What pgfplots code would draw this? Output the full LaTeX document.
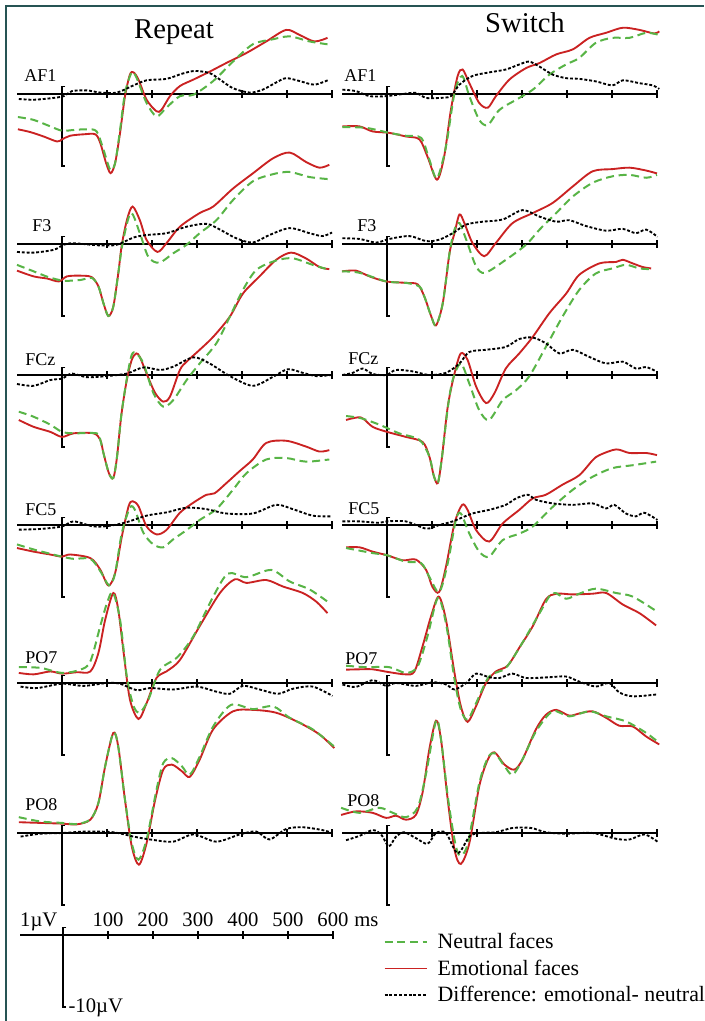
\documentclass[border=0pt]{standalone}
\usepackage{fontspec}
\setmainfont{Liberation Serif}
\usepackage{pgfplots}
\pgfplotsset{compat=1.18}
\definecolor{emo}{RGB}{202,34,34}
\definecolor{neu}{RGB}{88,180,70}
\definecolor{framec}{RGB}{38,84,84}
\pgfplotsset{
 panel/.style={anchor=origin, scale only axis, width=236.25pt, height=59.4pt,
   xmin=-100, xmax=600, ymin=-10, ymax=1, hide axis, clip=false},
 emoL/.style={emo, line width=1.4pt, smooth},
 neuL/.style={neu, line width=1.5pt, smooth, dash pattern=on 6pt off 3.5pt},
 difL/.style={black, line width=1.4pt, smooth, dash pattern=on 2.2pt off 1.4pt},
}
\newcommand{\frameaxes}{%
 \draw[line width=1pt] (axis cs:-100,0) -- (axis cs:600,0);
 \pgfplotsinvokeforeach{100,200,300,400,500,600}{\draw[line width=0.9pt] (axis cs:##1,0) ++(0pt,-2.8pt) -- ++(0pt,5.6pt);}
 \draw[line width=1pt] ([xshift=2.5pt]axis cs:0,1) -- (axis cs:0,1) -- (axis cs:0,-10) -- ([xshift=2.5pt]axis cs:0,-10);
}
\newcommand{\chan}{\fontsize{13.5}{16}\selectfont}
\begin{document}
\begin{tikzpicture}[x=0.75pt,y=0.75pt]
\useasboundingbox (0,0) rectangle (704,1021);
\coordinate (L1) at (62,927); \coordinate (L2) at (62,777); \coordinate (L3) at (62,646);
\coordinate (L4) at (62,496); \coordinate (L5) at (62,338); \coordinate (L6) at (62,188);
\coordinate (R1) at (387,927); \coordinate (R2) at (387,777); \coordinate (R3) at (387,646);
\coordinate (R4) at (387,496); \coordinate (R5) at (387,338); \coordinate (R6) at (387,188);
\coordinate (S0) at (63,86);
\draw[framec, line width=1.4pt] (6,0) -- (6,1015) -- (704,1015);
\node[anchor=base, font=\fontsize{21.5}{26}\selectfont] at (174,982) {Repeat};
\node[anchor=base, font=\fontsize{21.5}{26}\selectfont] at (525,988) {Switch};
% channel labels
\node[anchor=base west, inner sep=0pt, font=\chan] at (24,939) {AF1};
\node[anchor=base west, inner sep=0pt, font=\chan] at (32,789) {F3};
\node[anchor=base west, inner sep=0pt, font=\chan] at (25,655) {FCz};
\node[anchor=base west, inner sep=0pt, font=\chan] at (25,505) {FC5};
\node[anchor=base west, inner sep=0pt, font=\chan] at (25,357) {PO7};
\node[anchor=base west, inner sep=0pt, font=\chan] at (25,210) {PO8};
\node[anchor=base west, inner sep=0pt, font=\chan] at (344,939) {AF1};
\node[anchor=base west, inner sep=0pt, font=\chan] at (357,789) {F3};
\node[anchor=base west, inner sep=0pt, font=\chan] at (348,656) {FCz};
\node[anchor=base west, inner sep=0pt, font=\chan] at (348,506) {FC5};
\node[anchor=base west, inner sep=0pt, font=\chan] at (345,356) {PO7};
\node[anchor=base west, inner sep=0pt, font=\chan] at (347,214) {PO8};

% ===== Repeat AF1
\begin{axis}[panel, at={(L1)}]
\frameaxes
\addplot[emoL] coordinates {(-98,-4.9)(-70,-5.3)(-41,-5.9)(-11,-6.6)(0,-6.3)(18,-5.8)(48,-5.6)(74,-5.6)(85,-6.8)(98,-9.6)(108,-11.0)(118,-9.6)(129,-5.4)(140,-0.3)(151,2.7)(159,3.0)(170,2.0)(188,-0.8)(210,-2.4)(221,-2.2)(240,-0.3)(262,1.1)(292,2.0)(328,3.1)(365,4.3)(410,5.7)(454,7.3)(498,8.9)(528,8.2)(561,7.3)(590,7.8)};
\addplot[neuL] coordinates {(-98,-3.2)(-63,-3.6)(-26,-4.5)(0,-5.1)(26,-5.0)(55,-4.9)(77,-5.2)(92,-7.7)(107,-10.5)(118,-9.6)(129,-5.0)(140,0.1)(155,3.0)(166,2.2)(188,-1.25)(210,-3.1)(232,-1.9)(262,-0.3)(292,-0.1)(336,1.8)(380,4.5)(424,6.9)(469,7.6)(506,8.0)(550,7.3)(590,6.9)};
\addplot[difL] coordinates {(-96,-0.7)(-63,-0.8)(-26,-0.6)(4,-0.3)(22,0.4)(55,0.5)(85,0.2)(122,0.2)(159,1.2)(188,1.9)(232,2.1)(266,2.8)(295,3.2)(328,2.9)(351,2.0)(380,0.8)(417,0.2)(446,0.6)(476,1.6)(498,2.2)(528,1.8)(561,1.3)(594,2.0)};
\end{axis}
% ===== Repeat F3
\begin{axis}[panel, at={(L2)}]
\frameaxes
\addplot[emoL] coordinates {(-100,-3.7)(-63,-4.5)(-33,-4.8)(-7,-5.2)(11,-4.5)(41,-4.4)(66,-4.6)(81,-5.9)(92,-8.2)(103,-10.0)(114,-8.7)(125,-4.1)(133,-0.1)(145,3.5)(157,5.2)(173,3.3)(188,0.55)(212,-1.1)(232,0.1)(262,2.4)(306,4.3)(336,5.2)(380,7.7)(424,9.8)(469,11.9)(506,12.7)(542,11.4)(572,10.6)(594,11.0)};
\addplot[neuL] coordinates {(-100,-2.9)(-63,-3.8)(-30,-4.6)(4,-5.1)(41,-5.0)(66,-4.7)(81,-5.9)(92,-8.2)(103,-10.0)(114,-8.7)(125,-4.1)(135,0.2)(153,4.3)(173,1.5)(192,-1.8)(216,-2.6)(247,-1.3)(277,-0.1)(306,1.5)(343,3.3)(380,6.1)(424,8.7)(469,9.7)(506,10.0)(550,9.3)(594,9.0)};
\addplot[difL] coordinates {(-100,-1.1)(-63,-1.2)(-18,-0.8)(4,-0.1)(26,0.1)(85,-0.2)(122,-0.1)(159,0.9)(188,1.25)(232,1.5)(277,2.4)(321,2.8)(351,2.0)(387,0.8)(424,0.2)(461,1.25)(506,2.2)(550,1.5)(579,1.1)(600,1.6)};
\end{axis}
% ===== Repeat FCz
\begin{axis}[panel, at={(L3)}]
\frameaxes
\addplot[emoL] coordinates {(-96,-6.25)(-63,-7.2)(-26,-7.9)(0,-8.6)(26,-8.1)(70,-8.1)(85,-9.0)(92,-10.8)(104,-13.6)(114,-14.3)(122,-11.5)(132,-5.5)(144,-0.7)(155,2.1)(165,3.0)(173,2.5)(188,0.2)(207,-2.5)(225,-3.7)(240,-3.0)(262,0.7)(277,1.85)(306,3.5)(336,5.3)(373,8.1)(402,11.3)(439,13.7)(476,16.0)(509,17.0)(542,16.2)(572,15.0)(594,14.7)};
\addplot[neuL] coordinates {(-96,-5.1)(-63,-5.8)(-26,-6.9)(0,-7.9)(26,-8.1)(77,-8.1)(85,-9.0)(92,-10.8)(104,-13.6)(114,-14.3)(122,-11.5)(132,-5.5)(144,-0.5)(155,2.8)(165,3.0)(181,1.6)(203,-2.5)(225,-4.4)(247,-3.5)(277,-0.7)(306,1.6)(343,4.4)(373,8.1)(402,11.8)(432,14.6)(476,15.9)(513,16.2)(557,15.3)(594,14.6)};
\addplot[difL] coordinates {(-100,-1.25)(-63,-1.5)(-26,-0.7)(0,-0.5)(22,0.2)(55,-0.3)(100,-0.15)(144,0.2)(181,1.05)(218,0.7)(247,1.15)(292,2.45)(328,1.6)(373,-0.15)(424,-1.5)(469,-0.25)(502,0.8)(535,0.3)(565,-0.15)(598,0)};
\end{axis}
% ===== Repeat FC5
\begin{axis}[panel, at={(L4)}]
\frameaxes
\addplot[emoL] coordinates {(-100,-3.2)(-63,-3.7)(-26,-4.1)(0,-4.4)(18,-4.1)(63,-4.6)(85,-6.2)(103,-8.4)(118,-6.7)(133,-1.6)(148,2.6)(157,3.3)(170,2.6)(188,-0.2)(210,-1.3)(232,-0.7)(262,1.7)(292,3.1)(321,4.2)(339,4.4)(365,5.8)(395,7.5)(424,9.1)(454,11.4)(498,11.7)(542,10.9)(572,10.2)(594,10.4)};
\addplot[neuL] coordinates {(-100,-2.7)(-63,-3.4)(-26,-4.0)(0,-4.4)(26,-4.7)(63,-4.7)(85,-6.4)(105,-8.4)(118,-6.7)(133,-1.1)(151,2.4)(162,2.1)(181,-1.1)(203,-2.7)(225,-3.1)(247,-2.0)(277,-0.7)(306,0.7)(343,2.2)(380,4.9)(410,7.2)(454,9.1)(498,9.3)(542,8.8)(594,9.1)};
\addplot[difL] coordinates {(-96,-0.65)(-48,-0.55)(0,-0.2)(26,0.5)(70,-0.2)(107,-0.1)(144,0.4)(188,1.3)(232,1.75)(277,2.4)(321,2.2)(365,1.6)(424,1.6)(476,2.8)(513,2.2)(557,1.3)(598,1.2)};
\end{axis}
% ===== Repeat PO7
\begin{axis}[panel, at={(L5)}]
\frameaxes
\addplot[emoL] coordinates {(-96,1.4)(-63,1.2)(-26,1.6)(0,1.3)(33,1.5)(63,1.6)(81,4.2)(96,8.8)(114,12.5)(125,10.2)(137,4.2)(151,-2.3)(170,-5.0)(188,-2.8)(210,0.7)(232,1.6)(262,3.2)(306,7.9)(351,12.5)(384,14.4)(410,13.9)(454,14.3)(491,13.4)(535,12.5)(565,11.3)(590,9.7)};
\addplot[neuL] coordinates {(-96,2.2)(-48,2.1)(0,1.4)(41,1.85)(63,3.0)(85,7.9)(100,11.1)(113,12.6)(129,8.8)(144,0.9)(159,-3.2)(173,-4.1)(192,-2.3)(218,1.85)(255,3.5)(292,6.5)(336,12.0)(369,15.2)(410,14.7)(465,15.7)(506,14.1)(550,13.0)(590,11.3)};
\addplot[difL] coordinates {(-92,-0.5)(-55,-0.7)(0,-0.1)(48,-0.4)(100,0)(129,-0.1)(166,-1.0)(196,-0.7)(247,-0.9)(299,-0.5)(343,-1.2)(373,-1.5)(402,-0.4)(439,-0.9)(480,-1.5)(513,-0.8)(557,-0.5)(601,-1.8)};
\end{axis}
% ===== Repeat PO8
\begin{axis}[panel, at={(L6)}]
\frameaxes
\addplot[emoL] coordinates {(-96,1.5)(-48,1.4)(0,1.3)(33,1.2)(63,1.85)(81,4.2)(96,9.3)(114,13.9)(125,12.0)(140,4.6)(155,-1.85)(171,-4.4)(188,-1.4)(207,4.6)(225,8.8)(244,9.5)(266,8.6)(284,7.8)(306,10.2)(336,14.4)(380,16.9)(424,17.1)(476,16.7)(528,15.3)(572,13.7)(605,11.8)};
\addplot[neuL] coordinates {(-96,2.2)(-48,1.6)(0,1.4)(33,1.25)(63,1.9)(81,4.2)(96,9.3)(114,13.9)(125,12.0)(140,4.6)(155,-1.4)(170,-3.7)(188,-0.9)(210,6.0)(225,9.7)(244,10.4)(266,9.3)(284,8.1)(306,10.6)(336,14.8)(376,17.8)(424,17.2)(469,17.6)(506,16.0)(557,14.4)(605,12.0)};
\addplot[difL] coordinates {(-92,-0.5)(-48,-0.1)(0,0)(55,0.2)(114,0.1)(159,-0.5)(196,-0.9)(247,-1.2)(292,-0.2)(343,-1.2)(395,-0.2)(432,0.2)(461,-0.9)(498,0.55)(535,0.8)(579,0.4)(601,0)};
\end{axis}

% ===== Switch AF1
\begin{axis}[panel, at={(R1)}]
\frameaxes
\addplot[emoL] coordinates {(-99,-4.5)(-61,-4.5)(-32,-5.2)(5,-5.4)(42,-5.9)(72,-6.3)(90,-8.7)(111,-11.9)(127,-8.7)(142,-2.2)(157,2.5)(168,3.4)(183,1.5)(205,-1.25)(224,-1.9)(242,-0.3)(272,2.0)(309,3.6)(339,4.3)(376,5.5)(413,6.2)(450,7.8)(487,8.5)(524,9.2)(561,8.9)(594,8.4)(605,8.7)};
\addplot[neuL] coordinates {(-99,-4.6)(-47,-4.7)(5,-5.4)(42,-5.8)(76,-6.1)(94,-9.1)(111,-11.7)(131,-7.3)(150,0.1)(167,2.5)(183,-0.3)(205,-3.6)(224,-4.3)(250,-2.2)(287,-0.8)(324,0.6)(361,2.7)(398,4.1)(427,5.0)(464,7.1)(501,7.8)(539,7.8)(576,8.5)(605,8.2)};
\addplot[difL] coordinates {(-99,0.6)(-69,0.4)(-39,-0.3)(-2,-0.3)(35,0)(64,0.15)(87,-0.55)(116,-0.55)(142,-0.3)(161,1.3)(190,2.5)(227,3.0)(264,3.4)(294,4.1)(316,4.5)(339,3.8)(368,2.7)(398,2.2)(427,2.1)(464,1.75)(501,1.2)(524,1.9)(561,1.5)(590,1.2)(605,0.7)};
\end{axis}
% ===== Switch F3
\begin{axis}[panel, at={(R2)}]
\frameaxes
\addplot[emoL] coordinates {(-100,-3.8)(-69,-3.7)(-39,-4.5)(-2,-5.2)(42,-5.4)(68,-5.6)(83,-7.3)(98,-10.0)(109,-11.3)(124,-8.2)(139,-1.25)(150,1.5)(161,4.1)(172,2.9)(190,0.15)(216,-1.7)(242,0.15)(279,2.9)(324,4.3)(368,5.7)(413,8.0)(457,10.1)(501,10.4)(539,10.6)(576,10.2)(600,9.8)};
\addplot[neuL] coordinates {(-100,-3.8)(-61,-4.0)(-2,-5.2)(42,-5.4)(72,-5.9)(83,-7.3)(98,-10.0)(109,-11.3)(124,-8.2)(139,-1.25)(150,2.0)(161,2.9)(176,0.6)(198,-3.1)(218,-4.0)(264,-2.2)(309,-0.1)(339,2.0)(376,4.3)(413,6.6)(457,8.5)(501,9.4)(539,9.6)(576,9.2)(600,9.6)};
\addplot[difL] coordinates {(-99,0.8)(-61,0.7)(-24,0.2)(5,0.7)(50,1.1)(87,0.4)(116,0.6)(146,1.5)(176,2.7)(213,3.1)(257,3.4)(301,4.7)(339,3.8)(376,3.1)(405,3.3)(442,2.5)(487,1.85)(524,2.1)(553,1.5)(576,2.0)(601,1.0)};
\end{axis}
% ===== Switch FCz
\begin{axis}[panel, at={(R3)}]
\frameaxes
\addplot[emoL] coordinates {(-91,-6.25)(-58,-5.9)(-32,-7.2)(0,-7.9)(42,-8.6)(79,-9.3)(94,-11.3)(104,-14.0)(113,-15.0)(122,-11.5)(135,-4.4)(150,0.2)(164,3.0)(179,2.1)(198,-1.6)(220,-3.9)(239,-2.5)(264,0.9)(294,3.0)(324,5.3)(361,8.6)(398,11.3)(427,13.9)(472,15.5)(509,15.7)(524,16.0)(546,15.5)(568,15.0)(587,14.8)};
\addplot[neuL] coordinates {(-91,-5.7)(-58,-6.0)(-17,-6.9)(27,-8.1)(72,-9.0)(94,-11.3)(104,-14.0)(113,-15.0)(122,-11.5)(135,-4.6)(146,-0.7)(164,1.6)(183,-1.2)(205,-4.9)(227,-6.25)(257,-3.5)(287,-2.1)(316,-0.2)(353,3.9)(390,8.1)(427,11.8)(464,14.1)(501,14.8)(531,15.3)(561,14.8)(587,14.7)};
\addplot[difL] coordinates {(-99,0)(-76,0.3)(-54,0.9)(-32,0.15)(-2,0)(20,0.7)(57,0.5)(94,0)(131,0.3)(161,1.6)(183,3.2)(220,3.5)(264,3.9)(294,5.0)(324,5.2)(353,4.4)(383,3.0)(413,3.5)(450,2.5)(487,1.6)(524,1.85)(553,0.9)(576,1.1)(598,0.5)};
\end{axis}
% ===== Switch FC5
\begin{axis}[panel, at={(R4)}]
\frameaxes
\addplot[emoL] coordinates {(-91,-3.1)(-61,-3.1)(-32,-3.7)(0,-4.2)(35,-4.9)(64,-4.8)(87,-6.25)(101,-8.6)(116,-9.3)(131,-5.8)(150,0.2)(167,2.8)(179,2.1)(198,-0.7)(227,-2.3)(257,0.2)(294,2.1)(324,3.7)(353,4.2)(390,5.6)(427,6.9)(457,9.0)(472,9.7)(509,10.5)(539,10.0)(576,10.0)(600,9.7)};
\addplot[neuL] coordinates {(-91,-3.2)(-32,-3.9)(0,-4.2)(42,-5.1)(76,-5.3)(94,-7.2)(116,-9.3)(135,-5.3)(153,0.7)(164,1.6)(183,-1.2)(205,-3.7)(227,-4.4)(257,-2.1)(294,-1.2)(324,-0.2)(368,2.5)(413,4.9)(457,6.7)(501,7.9)(546,8.3)(598,8.8)};
\addplot[difL] coordinates {(-99,0.5)(-61,0.5)(-17,0.3)(0,0.5)(42,0.5)(87,-0.5)(116,0)(146,0.5)(190,1.6)(227,2.1)(264,2.8)(287,3.7)(313,4.2)(331,3.5)(368,3.0)(413,2.8)(457,3.0)(487,2.3)(505,2.8)(531,1.6)(553,1.2)(572,1.7)(601,0.7)};
\end{axis}
% ===== Switch PO7
\begin{axis}[panel, at={(R5)}]
\frameaxes
\addplot[emoL] coordinates {(-91,1.85)(-61,1.9)(-32,1.9)(5,1.5)(42,1.2)(61,1.6)(79,5.1)(98,9.3)(115,12.0)(131,8.8)(150,1.4)(164,-3.2)(179,-5.4)(198,-3.2)(220,0)(242,1.6)(268,2.4)(294,4.9)(324,7.9)(353,11.6)(376,12.4)(413,12.3)(457,12.4)(487,12.5)(524,10.9)(561,9.7)(598,8.0)};
\addplot[neuL] coordinates {(-91,2.4)(-47,2.2)(5,2.2)(42,1.4)(68,2.3)(90,6.5)(113,11.8)(131,8.3)(150,0.5)(164,-3.7)(179,-5.1)(198,-2.8)(227,0.9)(264,2.1)(301,5.6)(339,9.7)(368,12.5)(398,11.7)(427,12.4)(464,13.1)(509,12.5)(546,12.0)(598,10.0)};
\addplot[difL] coordinates {(-99,-0.2)(-69,-0.55)(-32,0.4)(-2,-0.4)(20,0)(64,-0.4)(101,0.1)(131,-0.2)(150,-0.9)(176,0)(198,1.3)(227,0.8)(250,0.7)(279,1.3)(309,0.7)(361,0.8)(398,0.9)(427,0.2)(464,-0.5)(494,0)(516,-1.3)(546,-1.85)(598,-1.6)};
\end{axis}
% ===== Switch PO8
\begin{axis}[panel, at={(R6)}]
\frameaxes
\addplot[emoL] coordinates {(-102,2.5)(-69,3.0)(-32,2.8)(-2,2.1)(20,2.4)(42,1.85)(64,2.5)(79,5.6)(94,11.6)(109,15.6)(120,13.0)(135,4.6)(150,-2.3)(164,-4.3)(183,-1.4)(205,6.5)(224,10.2)(239,11.2)(261,9.5)(283,8.8)(301,10.2)(331,14.4)(353,16.4)(376,17.1)(405,16.3)(427,16.6)(457,16.9)(487,16.0)(516,14.9)(546,14.8)(576,13.4)(605,12.3)};
\addplot[neuL] coordinates {(-102,3.5)(-61,2.8)(-17,3.5)(13,2.8)(42,2.2)(68,3.5)(87,8.3)(109,15.6)(120,13.0)(135,5.1)(150,-0.9)(161,-3.1)(179,-1.6)(205,6.9)(224,10.4)(239,11.1)(261,9.3)(279,8.1)(301,10.2)(331,14.1)(368,16.9)(405,16.2)(450,16.9)(487,16.2)(531,15.5)(576,13.9)(605,12.5)};
\addplot[difL] coordinates {(-91,-1.0)(-61,-0.4)(-32,0.4)(-13,-0.2)(4,-1.85)(20,-0.5)(38,0.1)(64,-0.7)(90,-1.5)(109,0)(131,0)(157,-2.8)(183,-0.5)(205,0)(242,0.1)(279,0.7)(320,0.7)(353,0.1)(398,-0.1)(457,0)(509,-0.8)(539,-0.9)(572,-0.2)(601,-1.2)};
\end{axis}

% ===== scale + legend
\begin{axis}[panel, at={(S0)},
  legend style={at={(1.16,0.97)}, anchor=north west, draw=none, fill=none,
    font=\fontsize{16.4}{19}\selectfont, row sep=3pt, column sep=5pt, inner sep=0pt},
  legend cell align=left,
  legend image code/.code={\draw[#1] (0pt,0pt) -- (32pt,0pt);}]
\draw[line width=1pt] (axis cs:-95,0) -- (axis cs:600,0);
\pgfplotsinvokeforeach{100,200,300,400,500,600}{\draw[line width=0.9pt] (axis cs:#1,0) ++(0pt,-2.8pt) -- ++(0pt,5.6pt);}
\draw[line width=1pt] ([xshift=2.5pt]axis cs:0,1) -- (axis cs:0,1) -- (axis cs:0,-10) -- ([xshift=2.5pt]axis cs:0,-10);
\pgfplotsinvokeforeach{100,200,300,400,500}{\node[anchor=base, font=\fontsize{15.5}{18}\selectfont, inner sep=0pt] at ([yshift=6pt]axis cs:#1,0) {#1};}
\node[anchor=base, font=\fontsize{15.5}{18}\selectfont, inner sep=0pt] (n600) at ([yshift=6pt]axis cs:600,0) {600};
\node[anchor=base west, font=\fontsize{15.5}{18}\selectfont, inner sep=0pt] at ([xshift=4pt]n600.base east) {ms};
\node[anchor=base east, font=\fontsize{15.5}{18}\selectfont, inner sep=0pt] at ([xshift=-4pt,yshift=6pt]axis cs:0,0) {1µV};
\node[anchor=base west, font=\fontsize{15.5}{18}\selectfont, inner sep=0pt] at ([xshift=4pt,yshift=-4.5pt]axis cs:0,-10) {-10µV};
\addlegendimage{neuL}
\addlegendentry{Neutral faces}
\addlegendimage{emoL}
\addlegendentry{Emotional faces}
\addlegendimage{difL}
\addlegendentry{Difference: emotional- neutral}
\end{axis}
\end{tikzpicture}
\end{document}
